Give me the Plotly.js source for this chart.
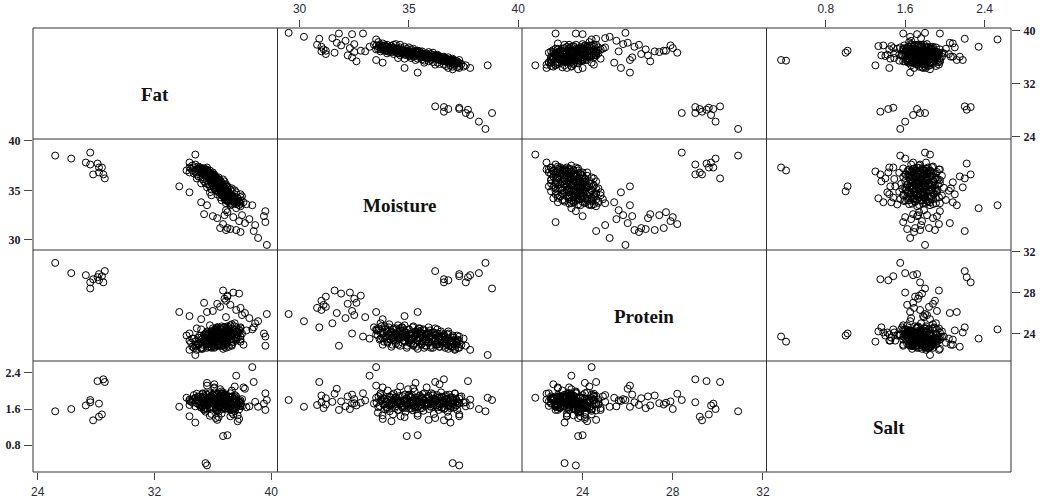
<!DOCTYPE html>
<html><head><meta charset="utf-8">
<script src="https://cdn.plot.ly/plotly-3.0.1.min.js"></script>
<style>body{margin:0;background:#fff}</style>
</head><body>
<div id="chart" style="width:1048px;height:500px"></div>
<script>
const varNames = ['Fat', 'Moisture', 'Protein', 'Salt'];

const fat = [
  37.9,37.2,38.3,37.5,36.9,37.8,38.1,37.0,37.6,36.6,
  37.9,37.3,36.8,37.7,37.1,36.5,37.4,38.0,36.9,37.2,
  36.6,37.5,36.3,37.0,36.7,37.6,36.4,36.9,37.3,36.2,
  36.8,37.2,35.9,36.6,36.1,37.0,36.4,35.8,36.7,36.0,
  36.5,35.7,36.9,36.2,35.5,36.6,35.9,36.3,35.4,36.0,
  35.6,36.4,35.3,35.9,36.2,35.2,35.7,36.1,35.0,35.5,
  35.8,34.9,35.4,35.7,34.7,35.2,35.6,34.8,35.3,35.0,
  34.6,35.2,34.9,34.5,35.1,34.7,34.4,35.0,34.6,34.8,
  37.9,37.9,37.5,37.3,37.0,36.5,36.8,36.7,36.4,36.1,
  37.0,35.9,35.8,35.6,35.2,34.9,34.4,34.2,36.5,36.9,
  39.7,39.1,38.8,39.6,39.5,39.6,37.6,37.2,36.9,36.5,37.0,38.2,37.8,38.5,36.3,37.4,
  36.8,38.0,36.0,35.4,36.9,37.0,35.6,35.2,38.9,37.9,36.7,34.4,33.7,34.4,34.8,
  35.5,35.6,36.7,37.0,38.7,37.6,
  25.2,26.3,27.6,28.6,28.5,27.8,28.2,28.4,28.2,28.1,27.3,27.6,
  37.8,37.3,37.6,37.9,37.2,37.5,37.7,37.1,37.4,37.8,
  37.0,37.6,37.3,36.9,37.5,37.2,37.7,36.8,37.4,37.0,
  37.4,36.8,37.1,36.7,37.3,36.9,36.6,37.2,36.8,37.0,
  36.6,37.1,36.8,36.4,37.0,36.7,36.5,36.9,36.3,36.8,
  36.5,36.9,36.3,36.7,36.6,36.2,36.8,36.4,36.6,36.3,
  36.7,36.2,36.5,36.1,36.6,36.3,36.0,36.4,36.5,36.1,
  36.4,35.9,36.2,36.0,36.5,35.8,36.3,36.1,35.9,36.2,
  35.8,36.3,36.0,35.7,36.2,35.9,35.6,36.1,35.8,35.5,
  36.0,35.6,35.9,35.4,35.8,35.5,36.0,35.6,35.3,35.7,
  35.4,35.8,35.2,35.6,35.3,35.5,35.0,35.4,35.2,35.1,
  37.3,37.0,36.9,36.6,36.4,36.3,36.0,35.9,35.7,35.5,
  37.6,37.3,37.1,36.8,36.8,36.4,36.3,36.1,35.8,35.5
];
const moisture = [
  33.4,33.5,33.6,33.7,33.7,33.8,33.8,33.9,33.9,34.0,
  34.0,34.1,34.1,34.2,34.2,34.3,34.3,34.4,34.4,34.5,
  34.5,34.6,34.6,34.7,34.7,34.8,34.8,34.9,34.9,35.0,
  35.0,35.1,35.1,35.2,35.2,35.3,35.3,35.4,35.4,35.5,
  35.5,35.6,35.6,35.7,35.7,35.8,35.8,35.9,35.9,36.0,
  36.0,36.1,36.1,36.2,36.2,36.3,36.3,36.4,36.4,36.5,
  36.5,36.6,36.6,36.7,36.7,36.8,36.8,36.9,36.9,37.0,
  37.0,37.1,37.1,37.2,37.2,37.3,37.3,37.4,37.5,37.6,
  34.3,34.6,35.0,35.2,35.4,35.6,35.9,36.1,36.3,36.6,
  34.0,34.5,34.8,35.3,35.7,36.2,36.8,37.0,35.1,35.5,
  29.5,30.2,30.9,32.9,32.4,31.8,31.0,31.1,31.0,31.2,31.2,31.7,31.9,32.1,32.2,32.3,
  32.5,32.5,32.4,32.6,33.0,32.8,33.5,33.8,31.5,30.8,31.6,34.8,35.4,37.8,38.6,
  37.0,37.3,34.9,35.4,33.5,33.2,
  38.5,38.2,38.8,36.2,36.6,36.6,36.8,37.3,37.3,37.7,37.8,37.6,
  33.52,33.58,33.61,33.66,33.70,33.74,33.79,33.83,33.86,33.91,
  33.95,33.99,34.03,34.08,34.12,34.15,34.19,34.24,34.27,34.31,
  34.35,34.38,34.42,34.47,34.51,34.54,34.58,34.62,34.66,34.70,
  34.73,34.77,34.81,34.85,34.88,34.92,34.96,35.00,35.04,35.07,
  35.11,35.15,35.18,35.22,35.26,35.29,35.33,35.37,35.40,35.44,
  35.48,35.52,35.55,35.59,35.63,35.66,35.70,35.74,35.77,35.81,
  35.85,35.88,35.92,35.96,35.99,36.03,36.07,36.10,36.14,36.18,
  36.21,36.25,36.29,36.32,36.36,36.40,36.43,36.47,36.51,36.54,
  36.58,36.62,36.66,36.69,36.73,36.77,36.80,36.84,36.88,36.91,
  36.95,36.99,37.03,37.06,37.10,37.14,37.17,37.21,37.25,37.32,
  34.2,34.5,34.9,35.2,35.5,35.8,36.1,36.4,36.7,37.0,
  34.0,34.4,34.7,35.0,35.3,35.6,35.9,36.2,36.5,36.9
];
const protein = [
  24.6,23.9,24.3,25.0,23.5,24.1,22.9,24.7,23.6,24.4,
  23.2,24.9,23.8,24.2,22.7,24.5,23.4,24.0,23.0,24.8,
  23.6,24.3,22.8,23.9,24.6,23.3,24.1,22.6,23.7,24.4,
  23.1,24.0,23.5,24.7,22.9,23.8,24.2,23.3,22.5,24.5,
  23.6,24.0,23.0,24.3,23.4,22.8,23.9,24.6,23.2,23.7,
  22.6,24.1,23.5,22.9,23.8,24.4,23.1,22.7,23.6,24.0,
  23.3,22.8,23.9,23.0,23.5,22.5,24.2,23.2,22.9,23.6,
  22.7,23.4,22.4,23.1,23.8,22.6,23.3,22.9,23.5,22.8,
  23.7,24.5,23.9,22.8,24.3,23.2,24.0,23.6,22.9,23.7,
  23.5,23.8,24.8,24.1,22.6,24.5,24.0,23.8,23.0,24.2,
  25.9,25.2,24.6,23.7,24.0,22.8,26.3,26.8,27.2,26.6,27.6,26.0,27.9,25.5,26.9,28.0,
  27.4,25.8,26.2,27.0,25.6,27.7,26.1,25.4,25.0,26.5,28.2,25.7,26.1,22.4,21.9,
  23.2,23.7,23.8,24.0,24.4,23.5,
  30.9,29.9,28.4,30.1,29.0,29.3,29.2,29.6,29.8,29.5,29.7,29.0,
  24.3,23.8,24.5,23.4,24.1,24.7,23.6,24.0,23.2,24.4,
  23.7,24.2,23.1,24.6,23.9,23.4,24.1,22.9,24.4,23.6,
  24.0,23.3,24.5,23.7,22.9,24.2,23.5,23.9,24.6,23.1,
  23.6,24.3,23.2,23.8,24.1,22.8,23.5,24.4,23.9,23.3,
  24.0,23.4,24.6,23.0,23.7,24.2,22.7,23.9,23.3,24.5,
  23.5,24.1,22.9,23.8,23.3,24.4,23.6,22.8,24.0,23.4,
  23.9,23.1,23.6,24.3,22.8,23.4,23.8,22.6,24.1,23.3,
  23.5,22.9,24.0,23.2,23.7,22.7,23.4,24.2,23.0,23.6,
  23.1,23.8,22.6,23.4,23.0,23.9,22.8,23.5,23.2,22.7,
  23.3,22.7,23.6,23.0,22.5,23.2,22.9,23.4,22.6,23.0,
  23.8,23.4,23.6,23.9,23.5,23.7,23.2,23.6,23.4,23.1,
  24.2,23.9,24.0,23.4,23.8,23.2,24.1,23.5,23.7,23.3
];
const salt = [
  1.72,1.85,1.64,1.91,1.78,1.38,2.08,1.70,1.83,1.60,
  1.76,1.88,1.68,1.33,1.80,1.94,1.74,1.66,1.86,1.58,
  1.79,2.10,1.71,1.63,1.89,1.77,1.42,1.84,1.69,1.92,
  1.75,1.61,1.87,1.73,2.06,1.66,1.81,1.45,1.77,1.90,
  1.70,1.85,1.62,1.79,1.95,1.68,1.74,1.36,1.88,1.72,
  1.81,1.65,1.93,1.76,1.40,1.84,1.70,2.15,1.78,1.63,
  1.87,1.73,1.60,1.82,1.91,1.67,1.75,1.30,1.86,1.71,
  1.80,1.64,1.94,1.77,1.69,1.83,1.44,1.88,1.74,1.66,
  1.73,1.79,1.86,1.68,1.76,1.83,1.71,1.90,1.64,1.78,
  1.81,1.75,1.62,2.18,1.72,1.80,1.69,1.85,1.74,1.67,
  1.80,1.65,2.20,1.95,1.72,1.58,1.75,1.62,1.90,1.84,1.70,2.05,1.77,1.66,1.88,1.60,
  1.73,1.82,1.92,1.68,1.79,1.74,2.12,1.85,1.76,1.69,1.94,1.78,1.65,1.81,1.85,
  0.40,0.35,1.00,1.02,2.53,2.34,
  1.55,1.60,1.80,2.20,2.26,1.35,1.43,1.48,1.72,2.22,1.68,1.75,
  1.74,1.52,1.88,1.67,1.95,1.81,1.46,1.70,1.83,1.59,
  1.77,1.63,2.01,1.72,1.55,1.86,1.69,1.91,1.48,1.80,
  1.62,1.84,1.71,1.97,1.58,1.76,1.89,1.44,1.73,1.66,
  1.79,1.65,1.92,1.54,1.82,1.70,2.04,1.61,1.75,1.87,
  1.68,1.90,1.57,1.78,1.99,1.64,1.85,1.73,1.50,1.81,
  1.76,1.62,1.87,1.71,1.93,1.56,1.80,1.67,1.84,2.08,
  1.73,1.89,1.60,1.78,1.65,1.95,1.70,1.83,1.49,1.76,
  1.82,1.68,1.91,1.74,1.58,1.86,1.71,1.97,1.64,1.79,
  1.75,1.61,1.88,1.69,1.83,1.54,1.77,1.92,1.66,1.80,
  1.72,1.85,1.63,1.78,1.95,1.68,1.81,1.58,1.74,1.87,
  1.70,1.78,1.74,1.68,1.80,1.72,1.76,1.66,1.82,1.75,
  1.64,1.86,1.69,1.91,1.60,1.84,1.73,1.79,1.87,1.62
];

const fatTicks = [24, 32, 40];
const moistureTicks = [30, 35, 40];
const proteinTicks = [24, 28, 32];
const saltTicks = [0.8, 1.6, 2.4];

const data = [fat, moisture, protein, salt];
const ticks = [fatTicks, moistureTicks, proteinTicks, saltTicks];
const ranges = [[23.68, 40.43], [28.99, 40.17], [21.31, 32.16], [0.203, 2.666]];

const traces = [];
for (let r = 0; r < 4; r++) {
  for (let c = 0; c < 4; c++) {
    if (r === c) continue;
    traces.push({
      type: 'scatter', mode: 'markers',
      x: data[c], y: data[r],
      xaxis: 'x' + (c === 0 ? '' : c + 1),
      yaxis: 'y' + (r === 0 ? '' : r + 1),
      marker: { symbol: 'circle-open', size: 7, color: '#000', line: { width: 1, color: '#000' } },
      hoverinfo: 'skip', showlegend: false
    });
  }
}

const xFont = { family: 'Liberation Sans, Arial, sans-serif', size: 12, color: '#2a2a3a' };
const yFont = { family: 'Liberation Serif, Times New Roman, serif', size: 12, color: '#1a1a2a', weight: 'bold' };

const layout = {
  width: 1048, height: 500,
  margin: { l: 33, r: 37, t: 28, b: 28 },
  paper_bgcolor: '#fff', plot_bgcolor: '#fff',
  showlegend: false,
  shapes: [], annotations: []
};

const xSides = ['bottom', 'top', 'bottom', 'top'];
const xAnchors = ['y4', 'y', 'y4', 'y'];
const ySides = ['right', 'left', 'right', 'left'];
const yAnchors = ['x4', 'x', 'x4', 'x'];

for (let i = 0; i < 4; i++) {
  const suffix = i === 0 ? '' : String(i + 1);
  layout['xaxis' + suffix] = {
    domain: [i * 0.25, (i + 1) * 0.25],
    range: ranges[i], anchor: xAnchors[i], side: xSides[i],
    tickmode: 'array', tickvals: ticks[i], ticktext: ticks[i].map(v => String(v)),
    ticks: 'outside', ticklen: 7, tickwidth: 1, tickcolor: '#444',
    showgrid: false, zeroline: false, showline: false,
    tickfont: xFont, ticklabelstandoff: 2, fixedrange: true
  };
  layout['yaxis' + suffix] = {
    domain: [(3 - i) * 0.25, (4 - i) * 0.25],
    range: ranges[i], anchor: yAnchors[i], side: ySides[i],
    tickmode: 'array', tickvals: ticks[i], ticktext: ticks[i].map(v => String(v)),
    ticks: 'outside', ticklen: 8, tickwidth: 1, tickcolor: '#444',
    showgrid: false, zeroline: false, showline: false,
    tickfont: yFont, ticklabelstandoff: 1, fixedrange: true
  };
  layout.annotations.push({
    xref: 'paper', yref: 'paper',
    x: i * 0.25 + 0.125, y: (3 - i) * 0.25 + 0.125,
    xanchor: 'center', yanchor: 'middle',
    yshift: -11, showarrow: false, text: varNames[i],
    font: { family: 'Liberation Serif, Times New Roman, serif', size: 19, color: '#111', weight: 'bold' }
  });
}

const lineStyle = { color: '#333', width: 1 };
layout.shapes.push({ type: 'rect', xref: 'paper', yref: 'paper', x0: 0, x1: 1, y0: 0, y1: 1, line: lineStyle });
for (const p of [0.25, 0.5, 0.75]) {
  layout.shapes.push({ type: 'line', xref: 'paper', yref: 'paper', x0: p, x1: p, y0: 0, y1: 1, line: lineStyle });
  layout.shapes.push({ type: 'line', xref: 'paper', yref: 'paper', x0: 0, x1: 1, y0: p, y1: p, line: lineStyle });
}

Plotly.newPlot('chart', traces, layout, { displayModeBar: false, staticPlot: true });
</script>
</body></html>
